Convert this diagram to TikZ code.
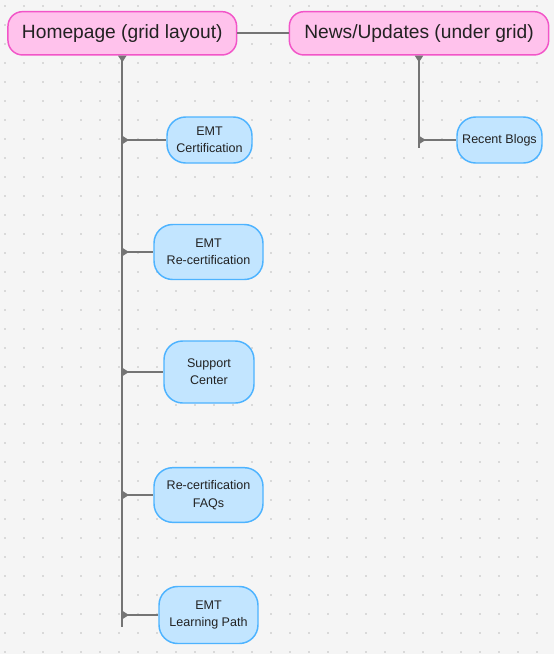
\documentclass[tikz,border=0pt]{standalone}
\usepackage{fontspec}
\setmainfont{Liberation Sans}
\usepackage{tikz}
\usetikzlibrary{arrows.meta}
\definecolor{bgcol}{HTML}{F5F5F5}
\definecolor{dotcol}{HTML}{BDBDBD}
\definecolor{pinkfill}{HTML}{FFC2EC}
\definecolor{pinkline}{HTML}{F255C8}
\definecolor{bluefill}{HTML}{C2E5FF}
\definecolor{blueline}{HTML}{4DB3FF}
\definecolor{linecol}{HTML}{747474}
\definecolor{textcol}{HTML}{222222}
\tikzstyle{pagenode} = [draw=pinkline, fill=pinkfill, line width=1.1pt, rounded corners=11pt, inner sep=0pt, text=textcol, align=center, font=\fontsize{14.4}{17}\selectfont]
\tikzstyle{topicnode} = [draw=blueline, fill=bluefill, line width=1.1pt, rounded corners=14pt, inner sep=0pt, text=textcol, align=center, font=\fontsize{9.4}{13}\selectfont]
\tikzstyle{edge} = [linecol, line width=1.3pt]
\tikzstyle{branch} = [linecol, line width=1.1pt, {Triangle[reversed, length=5pt, width=6pt]}-]

\begin{document}
\begin{tikzpicture}[x=0.75pt, y=-0.75pt]

\fill[bgcol] (0,0) rectangle (554,654);
\foreach \i in {0,...,28}
  \foreach \j in {0,...,34}
    \fill[dotcol] (5+19*\i, 6+19*\j) circle (0.6pt);

\node[pagenode, minimum width=171.5pt, minimum height=32.5pt] (home) at (122.3,33.3) {Homepage (grid layout)};
\node[pagenode, minimum width=194.5pt, minimum height=32.5pt] (news) at (419,33.3) {News/Updates (under grid)};

\node[topicnode, minimum width=63.75pt, minimum height=34.5pt] (cert) at (209.5,140) {EMT\\Certification};
\node[topicnode, minimum width=81.75pt, minimum height=41.25pt] (recert) at (208.5,252) {EMT\\Re-certification};
\node[topicnode, minimum width=67.5pt, minimum height=46.5pt] (support) at (209,372) {Support\\Center};
\node[topicnode, minimum width=81.75pt, minimum height=41pt] (faqs) at (208.5,495) {Re-certification\\FAQs};
\node[topicnode, minimum width=74.25pt, minimum height=42.75pt] (path) at (208.5,615) {EMT\\Learning Path};
\node[topicnode, minimum width=63.75pt, minimum height=34.5pt] (blogs) at (499.5,140) {Recent Blogs};

\coordinate (hend) at (122.3,627);
\coordinate (nend) at (419,148);
\coordinate (b1) at (122.3,140);
\coordinate (b2) at (122.3,252);
\coordinate (b3) at (122.3,372);
\coordinate (b4) at (122.3,495);
\coordinate (b5) at (122.3,615);
\coordinate (b6) at (419,140);

\draw[edge] (home) -- (news);
\draw[edge, {Triangle[reversed, length=5pt, width=6pt]}-] (home.south) -- (hend);
\draw[edge, {Triangle[reversed, length=5pt, width=6pt]}-] (news.south) -- (nend);

\draw[branch] (b1) -- (cert);
\draw[branch] (b2) -- (recert);
\draw[branch] (b3) -- (support);
\draw[branch] (b4) -- (faqs);
\draw[branch] (b5) -- (path);
\draw[branch] (b6) -- (blogs);

\end{tikzpicture}
\end{document}
